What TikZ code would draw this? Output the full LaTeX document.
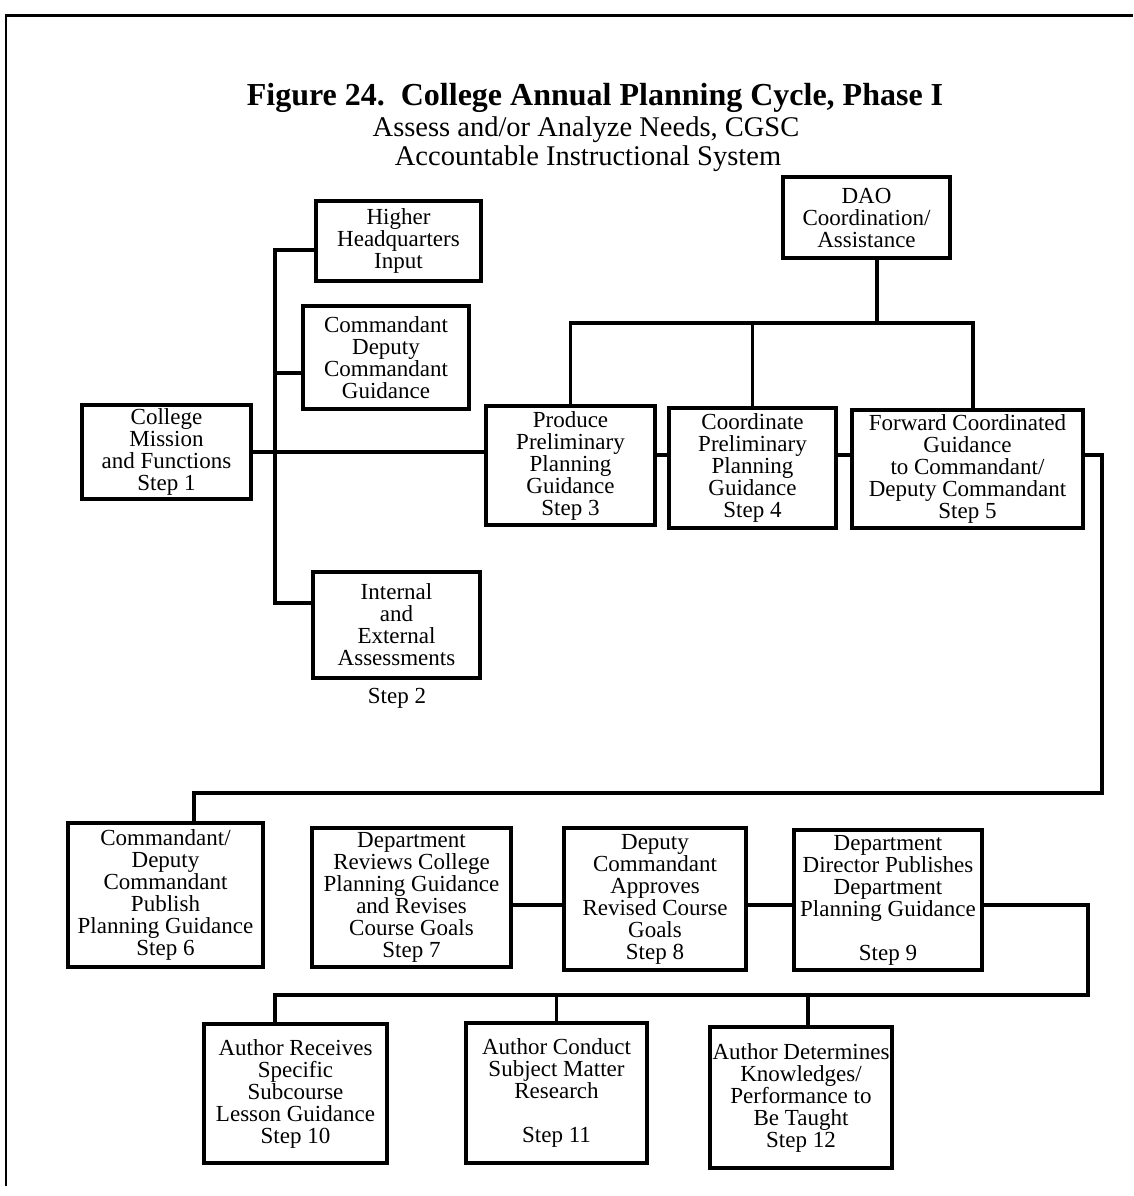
\documentclass[tikz,border=0pt]{standalone}
\usepackage{fontspec}
\setmainfont{Liberation Serif}
\begin{document}
\begin{tikzpicture}[x=1pt,y=-1pt,
  box/.style={draw,line width=3.6pt,inner sep=0pt,align=center,
    font=\fontsize{23}{22}\selectfont},
  conn/.style={line width=3.6pt},
  lbl/.style={inner sep=0pt,align=center,font=\fontsize{23}{22}\selectfont}]
\useasboundingbox (0,0) rectangle (1133,1196);
% frame
\draw[line width=2pt] (6,1186) -- (6,16);
\draw[line width=3pt] (5,16) -- (1133,16);
% title
\node[inner sep=0pt,font=\fontsize{32}{32}\bfseries] (t1) at (595,98) {Figure 24.\ \ College Annual Planning Cycle, Phase I};
\node[inner sep=0pt,font=\fontsize{28.5}{29}\selectfont] (t2) at (586,130) {Assess and/or Analyze Needs, CGSC};
\node[inner sep=0pt,font=\fontsize{28.5}{29}\selectfont] (t3) at (588,159) {Accountable Instructional System};
% boxes
\node[box,minimum width=165,minimum height=80] (hq) at (398.5,241) {Higher\\Headquarters\\Input};
\node[box,minimum width=166,minimum height=103] (cdc) at (386,357.5) {Commandant\\Deputy\\Commandant\\Guidance};
\node[box,minimum width=169,minimum height=94] (s1) at (166.5,452) {College\\Mission\\and Functions\\Step 1};
\node[box,minimum width=167,minimum height=106] (s2) at (396.5,625) {Internal\\and\\External\\Assessments};
\node[lbl] (s2l) at (397,698) {Step 2};
\node[box,minimum width=167,minimum height=81] (dao) at (866.5,217.5) {DAO\\Coordination/\\Assistance};
\node[box,minimum width=169,minimum height=119] (s3) at (570.5,465.5) {Produce\\Preliminary\\Planning\\Guidance\\Step 3};
\node[box,minimum width=167,minimum height=120] (s4) at (752.5,468) {Coordinate\\Preliminary\\Planning\\Guidance\\Step 4};
\node[box,minimum width=231,minimum height=118] (s5) at (967.5,469) {Forward Coordinated\\Guidance\\to Commandant/\\Deputy Commandant\\Step 5};
\node[box,minimum width=195,minimum height=144] (s6) at (165.5,895) {Commandant/\\Deputy\\Commandant\\Publish\\Planning Guidance\\Step 6};
\node[box,minimum width=199,minimum height=139] (s7) at (411.5,897.5) {Department\\Reviews College\\Planning Guidance\\and Revises\\Course Goals\\Step 7};
\node[box,minimum width=182,minimum height=142] (s8) at (655,899) {Deputy\\Commandant\\Approves\\Revised Course\\Goals\\Step 8};
\node[box,minimum width=188,minimum height=140] (s9) at (888,900) {Department\\Director Publishes\\Department\\Planning Guidance\\~\\Step 9};
\node[box,minimum width=183,minimum height=139] (s10) at (295.5,1093.5) {Author Receives\\Specific\\Subcourse\\Lesson Guidance\\Step 10};
\node[box,minimum width=181,minimum height=140] (s11) at (556.5,1093) {Author Conduct\\Subject Matter\\Research\\~\\Step 11};
\node[box,minimum width=182,minimum height=141] (s12) at (801,1097.5) {Author Determines\\Knowledges/\\Performance to\\Be Taught\\Step 12};
% left spine
\coordinate (spT) at (275,250);
\coordinate (spM) at (275,373);
\coordinate (spB) at (275,603);
\draw[conn] (hq.west |- spT) -- (spT) -- (spB) -- (s2.west |- spB);
\draw[conn] (cdc.west |- spM) -- (spM);
\draw[conn] (s1.east) -- (s3.west |- s1.east);
% DAO bus
\coordinate (busD) at (877,323);
\coordinate (b5) at (973,323);
\draw[conn] (dao.south -| busD) -- (busD);
\draw[conn] (s3.north) |- (b5) -- (b5 |- s5.north);
\draw[conn] (s4.north) -- (s4.north |- b5);
% row links
\coordinate (c34) at (0,455);
\draw[conn] (s3.east |- c34) -- (s4.west |- c34);
\draw[conn] (s4.east |- c34) -- (s5.west |- c34);
% step 5 to step 6
\coordinate (r1) at (1102,455);
\coordinate (r2) at (194,793);
\draw[conn] (s5.east |- r1) -- (r1) |- (r2) -- (r2 |- s6.north);
% row 2 links
\coordinate (c79) at (0,905);
\draw[conn] (s7.east |- c79) -- (s8.west |- c79);
\draw[conn] (s8.east |- c79) -- (s9.west |- c79);
% step 9 to bottom row
\coordinate (q1) at (1088,905);
\coordinate (q2) at (275,995);
\coordinate (q3) at (808,995);
\draw[conn] (s9.east |- q1) -- (q1) |- (q2) -- (q2 |- s10.north);
\draw[conn] (s11.north) -- (s11.north |- q2);
\draw[conn] (q3) -- (q3 |- s12.north);
\end{tikzpicture}
\end{document}
